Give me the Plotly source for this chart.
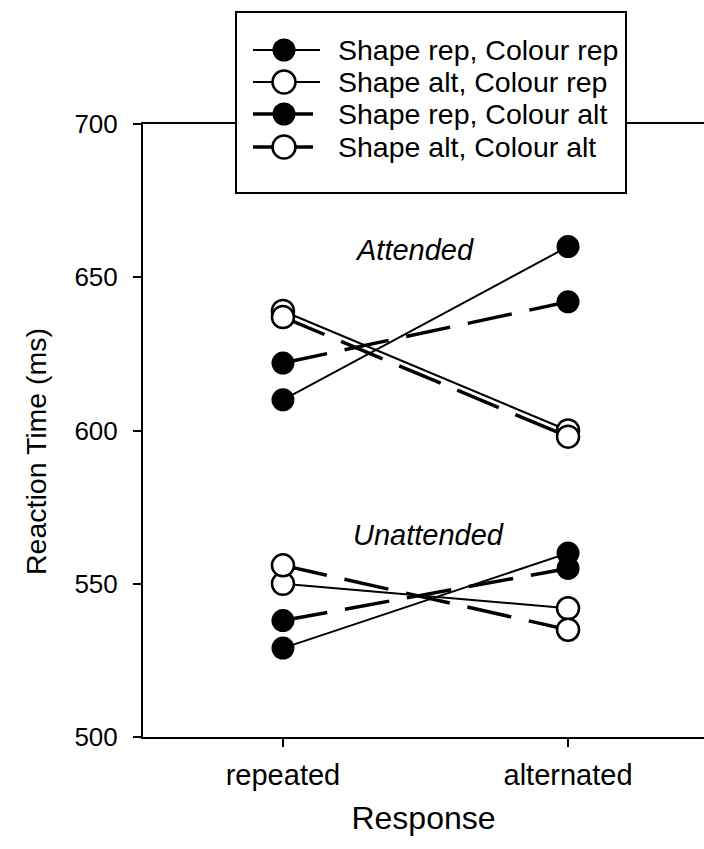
import plotly.graph_objects as go

# Response categories on the x axis
categories = ["repeated", "alternated"]

# Mean reaction times (ms): [repeated, alternated]
attended_shape_rep_colour_rep = [610, 660]
attended_shape_alt_colour_rep = [639, 600]
attended_shape_rep_colour_alt = [622, 642]
attended_shape_alt_colour_alt = [637, 598]

unattended_shape_rep_colour_rep = [529, 560]
unattended_shape_alt_colour_rep = [550, 542]
unattended_shape_rep_colour_alt = [538, 555]
unattended_shape_alt_colour_alt = [556, 535]

series_names = [
    "Shape rep, Colour rep",
    "Shape alt, Colour rep",
    "Shape rep, Colour alt",
    "Shape alt, Colour alt",
]

y_ticks = [500, 550, 600, 650, 700]

FONT = "Liberation Sans, Arial, sans-serif"

# Figure / plot-area geometry (pixels)
FIG_W, FIG_H = 704, 849
M_L, M_R, M_T, M_B = 143, 0, 124, 112
PLOT_W = FIG_W - M_L - M_R
PLOT_H = FIG_H - M_T - M_B


def px_x(px):
    """Pixel column -> paper x."""
    return (px - M_L) / PLOT_W


def px_y(py):
    """Pixel row (from top) -> paper y."""
    return (FIG_H - M_B - py) / PLOT_H


series = [
    (attended_shape_rep_colour_rep, unattended_shape_rep_colour_rep, True, False),
    (attended_shape_alt_colour_rep, unattended_shape_alt_colour_rep, False, False),
    (attended_shape_rep_colour_alt, unattended_shape_rep_colour_alt, True, True),
    (attended_shape_alt_colour_alt, unattended_shape_alt_colour_alt, False, True),
]

xpos = list(range(len(categories)))

fig = go.Figure()
for name, (att, unatt, filled, dashed) in zip(series_names, series):
    xs = xpos + [None] + xpos
    ys = list(att) + [None] + list(unatt)
    fig.add_trace(go.Scatter(
        x=xs, y=ys, name=name, mode="lines+markers",
        connectgaps=False, showlegend=False,
        line=dict(color="black", width=3.5 if dashed else 2,
                  dash="45px,18px" if dashed else "solid"),
        marker=dict(symbol="circle", size=22 if not filled else 23,
                    color="black" if filled else "white",
                    line=dict(color="black", width=0 if filled else 2.5)),
    ))

# Condition labels
fig.add_annotation(x=0.46, y=659, text="<i>Attended</i>", showarrow=False,
                   font=dict(family=FONT, size=29, color="black"))
fig.add_annotation(x=0.51, y=566, text="<i>Unattended</i>", showarrow=False,
                   font=dict(family=FONT, size=29, color="black"))

# Boxed legend
shapes = [dict(type="rect", xref="paper", yref="paper", layer="above",
               x0=px_x(236), x1=px_x(626), y0=px_y(193), y1=px_y(12),
               fillcolor="white", line=dict(color="black", width=2))]
row_y = [50, 82, 114, 147]
for name, (att, unatt, filled, dashed), ry in zip(series_names, series, row_y):
    yy = px_y(ry)
    shapes.append(dict(type="line", xref="paper", yref="paper", layer="above",
                       x0=px_x(253), x1=px_x(313 if dashed else 320), y0=yy, y1=yy,
                       line=dict(color="black", width=3.5 if dashed else 2)))
    shapes.append(dict(type="circle", xref="paper", yref="paper", layer="above",
                       xsizemode="pixel", ysizemode="pixel",
                       xanchor=px_x(284), yanchor=yy,
                       x0=-11.5, x1=11.5, y0=-11.5, y1=11.5,
                       fillcolor="black" if filled else "white",
                       line=dict(color="black", width=0 if filled else 2.5)))
    fig.add_annotation(xref="paper", yref="paper", x=px_x(336), y=yy,
                       xanchor="left", yanchor="middle", text=name, showarrow=False,
                       font=dict(family=FONT, size=28.5, color="black"))

# Y axis title
fig.add_annotation(xref="paper", yref="paper", x=px_x(36), y=px_y(452),
                   text="Reaction Time (ms)", textangle=-90, showarrow=False,
                   xanchor="center", yanchor="middle",
                   font=dict(family=FONT, size=28.5, color="black"))

fig.update_layout(
    width=FIG_W, height=FIG_H,
    margin=dict(l=M_L, r=M_R, t=M_T, b=M_B),
    paper_bgcolor="white", plot_bgcolor="white",
    font=dict(family=FONT, color="black"),
    showlegend=False,
    shapes=shapes,
    xaxis=dict(
        range=[-0.491, 1.477], tickmode="array", tickvals=xpos, ticktext=categories,
        showline=True, linecolor="black", linewidth=2, mirror=True,
        ticks="outside", ticklen=8, tickwidth=2, tickcolor="black",
        showgrid=False, zeroline=False, ticklabelstandoff=3,
        tickfont=dict(family=FONT, size=29, color="black"),
        title=dict(text="Response", font=dict(family=FONT, size=32, color="black"), standoff=17),
    ),
    yaxis=dict(
        range=[500, 700], tickvals=y_ticks,
        showline=True, linecolor="black", linewidth=2,
        ticks="outside", ticklen=8, tickwidth=2, tickcolor="black",
        showgrid=False, zeroline=False, ticklabelstandoff=10,
        tickfont=dict(family=FONT, size=26, color="black"),
    ),
    yaxis2=dict(
        range=[500, 700], tickvals=y_ticks, overlaying="y", anchor="x", side="left",
        ticks="inside", ticklen=8, tickwidth=2, tickcolor="black",
        showticklabels=False, showline=False, showgrid=False, zeroline=False,
    ),
)

fig.write_html("out.html")
